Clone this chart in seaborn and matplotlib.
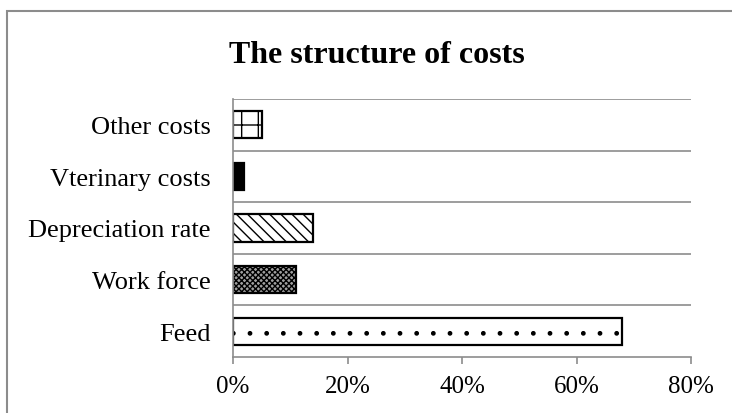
import matplotlib
matplotlib.use("Agg")
import matplotlib.pyplot as plt
import seaborn as sns
import pandas as pd
from matplotlib.patches import Rectangle
from matplotlib.ticker import PercentFormatter

# categories top to bottom, as in the picture
categories = ["Other costs", "Vterinary costs", "Depreciation rate", "Work force", "Feed"]
shares = [5, 2, 14, 11, 68]  # percent
hatches = ["+", "", "\\\\\\", "xxxxxx", "."]
fills = ["white", "black", "white", "#a0a0a0", "white"]

sns.set_style("white")
plt.rcParams["font.family"] = ["Liberation Serif", "DejaVu Serif"]
plt.rcParams["hatch.linewidth"] = 1.0
plt.rcParams["text.color"] = "black"
plt.rcParams["xtick.labelcolor"] = "black"
plt.rcParams["ytick.labelcolor"] = "black"

df = pd.DataFrame({"cat": categories, "share": shares})

fig = plt.figure(figsize=(7.32, 4.14), dpi=100)
ax = fig.add_axes([233 / 732, 56 / 414, 458 / 732, 258 / 414])

sns.barplot(data=df, x="share", y="cat", order=categories, orient="h",
            width=0.53, color="white", edgecolor="black", linewidth=1.6, ax=ax)
for bar, h, fc in zip(ax.patches, hatches, fills):
    bar.set_facecolor(fc)
    bar.set_hatch(h)

ax.set_xlim(0, 80)
ax.set_ylim(len(categories) - 0.5, -0.5)
ax.set_xticks([0, 20, 40, 60, 80])
ax.xaxis.set_major_formatter(PercentFormatter(decimals=0))

# horizontal lines between the categories
for y in [i - 0.5 for i in range(len(categories))]:
    ax.axhline(y, color="#8c8c8c", lw=1.2, zorder=0)

for s in ["top", "right"]:
    ax.spines[s].set_visible(False)
for s in ["left", "bottom"]:
    ax.spines[s].set_color("#8c8c8c")
    ax.spines[s].set_linewidth(1.2)

ax.tick_params(axis="x", direction="out", length=5, width=1.2, color="#8c8c8c",
               labelsize=18, pad=8, bottom=True, labelcolor="black")
ax.tick_params(axis="y", length=0, labelsize=19, pad=16, labelcolor="black")
ax.set_xlabel("")
ax.set_ylabel("")

fig.text(0.515, 0.866, "The structure of costs", ha="center", va="center",
         fontsize=23, fontweight="bold", color="black")

# outer chart border (runs off the right and bottom edges)
fig.patches.append(Rectangle((7 / 732, -0.05), 1.0, 1.05 - 12 / 414,
                             transform=fig.transFigure, fill=False,
                             edgecolor="#8c8c8c", lw=1.5))

fig.savefig("out.png", dpi=100)
